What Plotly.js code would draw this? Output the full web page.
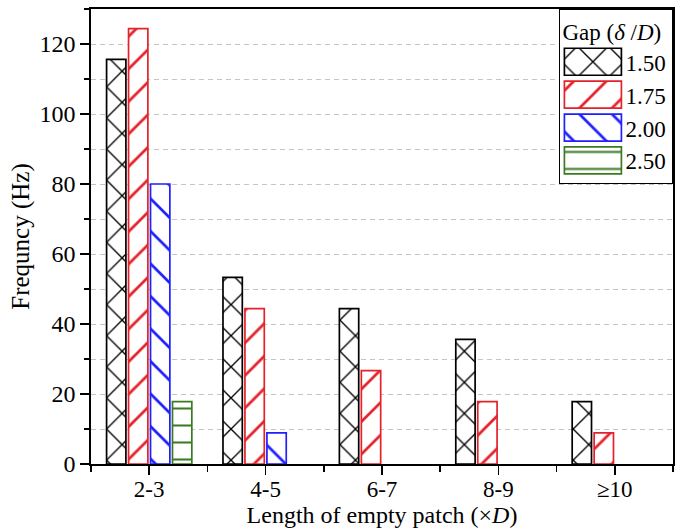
<!DOCTYPE html>
<html>
<head>
<meta charset="utf-8">
<script src="https://cdn.plot.ly/plotly-3.0.1.min.js"></script>
<style>html,body{margin:0;padding:0;background:#fff;}#chart{width:684px;height:532px;}</style>
</head>
<body>
<div id="chart"></div>
<script>
const categories = ["2-3", "4-5", "6-7", "8-9", "\u226510"];
const gapLabels = ["1.50", "1.75", "2.00", "2.50"];
const freq150 = [115.6, 53.3, 44.4, 35.6, 17.8];
const freq175 = [124.4, 44.4, 26.7, 17.8, 8.9];
const freq200 = [80.0, 8.9, null, null, null];
const freq250 = [17.8, null, null, null, null];

const series = [freq150, freq175, freq200, freq250];
const colors = ["#000000", "#e3222a", "#1f1fff", "#3a7a22"];
const shapes = ["x", "/", "\\", "-"];
const sizes = [22, 23, 23, 17];
const xIdx = categories.map((_, i) => i);

const traces = series.map((vals, k) => ({
  type: "bar",
  name: gapLabels[k],
  x: xIdx,
  y: vals,
  marker: {
    color: "#ffffff",
    line: {color: colors[k], width: 1.7},
    pattern: {shape: shapes[k], fgcolor: colors[k], bgcolor: "#ffffff", size: sizes[k], solidity: 0.12, fillmode: "replace"}
  },
  hoverinfo: "skip"
}));

const fontFam = "Liberation Serif, Times New Roman, serif";
const gridDash = "5px,4px";
const layout = {
  width: 684, height: 532,
  margin: {l: 91, r: 11, t: 9, b: 68},
  paper_bgcolor: "#ffffff", plot_bgcolor: "#ffffff",
  font: {family: fontFam, size: 24, color: "#000"},
  barmode: "group", bargap: 0.245, bargroupgap: 0.12,
  showlegend: true,
  legend: {
    x: 1, xanchor: "right", y: 1, yanchor: "top",
    bgcolor: "#ffffff", bordercolor: "#000", borderwidth: 1.4,
    font: {family: fontFam, size: 23},
    itemwidth: 55,
    title: {text: "Gap (<i>\u03b4</i> /<i>D</i>)", font: {family: fontFam, size: 23}},
    tracegroupgap: 0
  },
  xaxis: {
    range: [-0.5, 4.5],
    tickmode: "array", tickvals: xIdx, ticktext: categories,
    ticks: "outside", ticklen: 9, tickwidth: 1.5, tickcolor: "#000",
    ticklabelstandoff: -5,
    showline: true, linecolor: "#000", linewidth: 1.8, mirror: true,
    showgrid: false, zeroline: false,
    tickfont: {family: fontFam, size: 23},
    minor: {tick0: 0.5, dtick: 1, ticks: "outside", ticklen: 6, tickwidth: 1.5, tickcolor: "#000", showgrid: false},
    title: {text: "Length of empty patch (\u00d7<i>D</i>)", font: {family: fontFam, size: 24}, standoff: 0}
  },
  yaxis: {
    range: [0, 130],
    tick0: 0, dtick: 20,
    ticks: "outside", ticklen: 9, tickwidth: 1.5, tickcolor: "#000",
    showline: true, linecolor: "#000", linewidth: 1.8, mirror: true,
    showgrid: true, gridcolor: "#c4c4c4", griddash: gridDash, gridwidth: 1,
    zeroline: false,
    tickfont: {family: fontFam, size: 24},
    minor: {dtick: 10, ticks: "outside", ticklen: 5, tickwidth: 1.5, tickcolor: "#000", showgrid: true, gridcolor: "#c4c4c4", griddash: gridDash, gridwidth: 1},
    title: {text: "Frequncy (Hz)", font: {family: fontFam, size: 25}, standoff: 3}
  }
};

Plotly.newPlot("chart", traces, layout, {displayModeBar: false, staticPlot: true}).then(gd => {
  // enlarge legend swatches and reuse the bars' own pattern fills
  const barTraces = gd.querySelectorAll(".barlayer .trace");
  const legTraces = gd.querySelectorAll(".legend .traces");
  legTraces.forEach((lt, k) => {
    const sw = lt.querySelector(".legendpoints path");
    if (!sw) return;
    sw.setAttribute("d", "M28.5,13.5H-28.5V-13.5H28.5Z");
    const bar = barTraces[k] && barTraces[k].querySelector("path");
    if (bar) {
      sw.style.fill = bar.style.fill;
      sw.style.fillOpacity = bar.style.fillOpacity;
    }
    sw.style.strokeWidth = "1.7px";
  });
});
</script>
</body>
</html>
